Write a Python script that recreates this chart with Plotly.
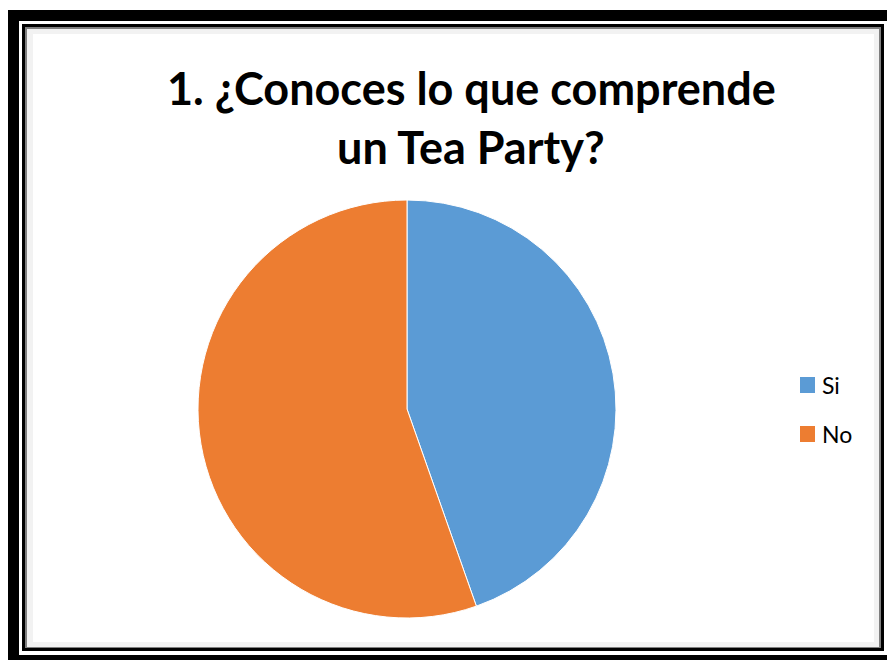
import plotly.graph_objects as go

labels = ["Si", "No"]
values = [29, 36]
colors = ["#5b9bd5", "#ed7d31"]
title_lines = ["1. ¿Conoces lo que comprende", "un Tea Party?"]

W, H = 887, 660
def px(x): return x / W
def py(y): return 1 - y / H

fig = go.Figure()
fig.add_trace(go.Pie(
    labels=labels, values=values, sort=False, direction="clockwise", rotation=0,
    marker=dict(colors=colors, line=dict(color="white", width=1)),
    textinfo="none", hoverinfo="label+value+percent", showlegend=False,
    domain=dict(x=[px(198), px(616)], y=[py(618), py(200)]),
))

def rect(x0, x1, y0, y1, col):
    return dict(type="rect", xref="paper", yref="paper", layer="below",
                x0=px(x0), x1=px(x1), y0=py(y1), y1=py(y0), fillcolor=col, line_width=0)

shapes = [
    rect(8, 898, 10, 666, "black"),
    rect(19, 887, 21, 655, "white"),
    rect(22, 884, 24, 651, "black"),
    rect(25, 881, 27, 648, "#7f7f7f"),
    rect(27, 879, 29, 647, "#f2f2f2"),
    rect(33, 874, 34, 642, "white"),
]
annotations = []
for i, (lab, col) in enumerate(zip(labels, colors)):
    yc = 385 + 49 * i
    shapes.append(rect(800, 815, yc - 8, yc + 8, col))
    annotations.append(dict(text=lab, x=px(820), y=py(yc), xref="paper", yref="paper",
                            xanchor="left", yanchor="middle", showarrow=False,
                            font=dict(family="Lato", size=23, color="black")))
for i, t in enumerate(title_lines):
    annotations.append(dict(text="<b>" + t + "</b>", x=px(471), y=py(88 + 59 * i),
                            xref="paper", yref="paper", xanchor="center", yanchor="middle",
                            showarrow=False, font=dict(family="Lato", size=45, color="black")))

fig.update_layout(
    width=W, height=H, margin=dict(l=0, r=0, t=0, b=0),
    paper_bgcolor="white", plot_bgcolor="white",
    shapes=shapes, annotations=annotations,
)
fig.write_html("out.html")
